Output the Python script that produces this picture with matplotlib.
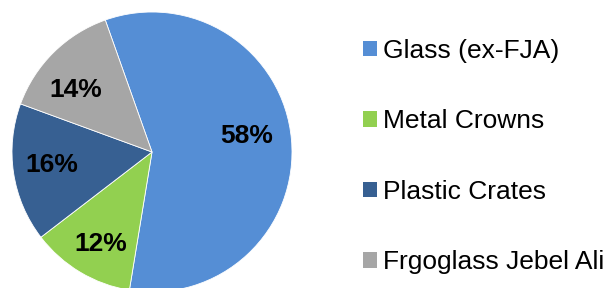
import matplotlib
matplotlib.use("Agg")
import matplotlib.pyplot as plt
import numpy as np

categories = ["Glass (ex-FJA)", "Metal Crowns", "Plastic Crates", "Frgoglass Jebel Ali"]
values = [58, 12, 16, 14]
colors = ["#558ED5", "#92D050", "#376092", "#A6A6A6"]

plt.rcParams['font.family'] = ['Liberation Sans', 'DejaVu Sans']

fig = plt.figure(figsize=(6.09, 2.88), dpi=100)
W, H = 609, 288
cx, cy, r = 152, 136, 140
ax = fig.add_axes([(cx - r) / W, (cy - r) / H, 2 * r / W, 2 * r / H])
wedges, texts, autotexts = ax.pie(
    values, colors=colors, startangle=109.5, counterclock=False,
    autopct=lambda p: f"{p:.0f}%", pctdistance=0.72,
    wedgeprops=dict(edgecolor="white", linewidth=0.6),
    textprops=dict(fontsize=19, fontweight="bold", color="black"))

# label placement: small angular offsets from each wedge's mid-angle
label_offsets = [6.0, 1.0, -3.0, 5.0]   # degrees
label_radius = [0.69, 0.74, 0.72, 0.71]
for w, t, off, rr in zip(wedges, autotexts, label_offsets, label_radius):
    mid = np.deg2rad((w.theta1 + w.theta2) / 2 + off)
    t.set_position((rr * np.cos(mid), rr * np.sin(mid)))
    t.set_va("center_baseline")

ax.set_xlim(-1, 1)
ax.set_ylim(-1, 1)
ax.set_aspect("equal")
ax.axis("off")

leg = fig.legend(wedges, categories, loc="upper left",
                 bbox_to_anchor=(363 / W, 1 - 39 / H), frameon=False,
                 fontsize=19, handlelength=0.52, handleheight=0.52,
                 handletextpad=0.25, labelspacing=1.76, borderaxespad=0,
                 borderpad=0)
for t in leg.get_texts():
    t.set_color("black")
for h in leg.legend_handles:
    h.set_edgecolor("none")

fig.savefig("out.png", dpi=100)
